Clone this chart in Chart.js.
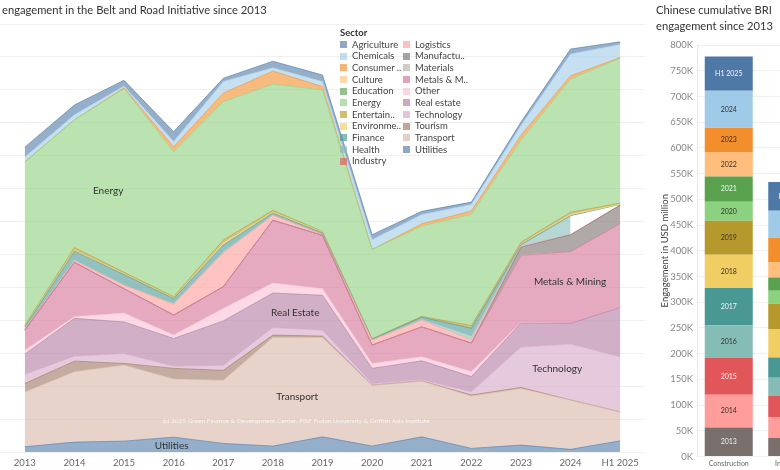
<!DOCTYPE html>
<html><head><meta charset="utf-8">
<script src="https://cdn.jsdelivr.net/npm/chart.js@4.4.1/dist/chart.umd.min.js"></script>
<style>
html,body{margin:0;padding:0;background:#fff;width:780px;height:470px;overflow:hidden;font-family:Lato,'Open Sans',sans-serif;position:relative;}
#left{position:absolute;left:0;top:0;}
#right{position:absolute;left:645px;top:0;}
.title{position:absolute;color:#333;font-size:11.2px;white-space:nowrap;line-height:16px;}
#legend{position:absolute;left:340px;top:27px;font-size:9.5px;color:#444;line-height:11.67px;}
#legend .head{font-weight:bold;color:#333;}
#legend .grid{display:grid;grid-auto-flow:column;grid-template-rows:repeat(11,11.67px);grid-template-columns:63px 70px;}
#legend .item{display:flex;align-items:center;white-space:nowrap;}
#legend .sw{width:7px;height:7px;margin-right:5px;flex:none;}
</style></head>
<body>
<canvas id="left" width="650" height="470"></canvas>
<canvas id="right" width="200" height="470"></canvas>
<div class="title" style="left:2px;top:2px;">engagement in the Belt and Road Initiative since 2013</div>
<div class="title" style="left:656px;top:2px;">Chinese cumulative BRI<br>engagement since 2013</div>
<div id="legend"><div class="head">Sector</div><div class="grid" id="lgrid"></div></div>
<script>
// ---------- Left chart data (USD billion) ----------
const years = ['2013','2014','2015','2016','2017','2018','2019','2020','2021','2022','2023','2024','H1 2025'];
const sectors = ['Agriculture','Chemicals','Consumer goods','Culture','Education','Energy','Entertainment','Environment','Finance','Health','Industry','Logistics','Manufacturing','Materials','Metals & Mining','Other','Real estate','Technology','Tourism','Transport','Utilities'];
const legendLabels = ['Agriculture','Chemicals','Consumer ..','Culture','Education','Energy','Entertain..','Environme..','Finance','Health','Industry','Logistics','Manufactu..','Materials','Metals & M..','Other','Real estate','Technology','Tourism','Transport','Utilities'];

const agriculture   = [3.0, 3.0, 1.7, 3.0, 1.0, 2.0, 2.0, 1.5, 1.0, 0.7, 1.0, 1.5, 0.8];
const chemicals     = [1.5, 1.5, 0.6, 1.6, 3.5, 1.0, 1.5, 3.0, 2.8, 2.0, 3.0, 6.6, 4.0];
const consumer      = [0, 0, 0.2, 1.5, 2.6, 4.0, 1.0, 0, 0.7, 1.0, 1.5, 1.0, 0.2];
const culture       = [0,0,0,0,0,0,0,0,0,0,0,0,0];
const education     = [0,0,0,0,0,0,0,0,0,0,0,0,0];
const energy        = [49.6, 38.8, 55.8, 44.0, 42.0, 38.3, 43.0, 27.1, 27.4, 33.8, 31.0, 40.5, 44.0];
const entertainment = [0.3, 0.8, 0.5, 0.4, 1.0, 0.5, 0.3, 0.1, 0.2, 0.8, 0.5, 0.6, 0.3];
const environment   = [0.2, 0.3, 0.2, 0.2, 0.5, 0.3, 0.2, 0, 0, 0, 0.2, 0.4, 0.3];
const finance       = [0.5, 2.5, 3.0, 1.4, 2.0, 0.5, 0.3, 0.2, 0.6, 2.3, 0.2, 0.2, 0];
const health        = [0.2, 0.4, 0.3, 0.3, 0.5, 0.2, 0.1, 0.1, 0.4, 1.2, 0.3, 5.6, 0];
const industry      = [0,0,0,0,0,0,0,0,0,0,0,0,0];
const logistics     = [0.3, 0.5, 1.0, 3.3, 10.2, 1.5, 0.3, 1.5, 2.0, 1.0, 0.3, 0, 0];
const manufacturing = [0,0,0,0,0,0,0,0,0,0, 2.3, 5.1, 5.6];
const materials     = [0,0,0,0,0,0,0,0,0,0, 0.2, 0, 0];
const metals        = [6.1, 16.5, 7.4, 6.1, 6.6, 19.1, 16.2, 5.6, 9.1, 8.7, 20.3, 21.8, 25.5];
const other         = [1.2, 0.5, 2.7, 1.0, 3.8, 3.0, 2.0, 1.5, 1.2, 1.5, 0.2, 0, 0];
const realEstate    = [6.1, 11.5, 9.6, 8.4, 13.5, 10.5, 10.6, 4.6, 5.7, 4.6, 7.3, 6.3, 15.0];
const technology    = [2.8, 1.5, 3.0, 0.7, 1.5, 2.3, 1.8, 0.5, 0.4, 1.0, 12.3, 17.0, 16.7];
const tourism       = [2.6, 3.2, 0.5, 3.2, 3.0, 0.7, 0.4, 0, 0, 0.3, 0.3, 0, 0];
const transport     = [16.6, 21.4, 23.1, 17.7, 19.2, 33.0, 30.2, 18.5, 17.0, 15.9, 17.2, 15.0, 8.8];
const utilities     = [1.6, 3.0, 3.3, 4.5, 2.6, 1.8, 4.6, 1.8, 4.6, 1.1, 2.1, 0.8, 3.4];

const sectorValues = [agriculture, chemicals, consumer, culture, education, energy, entertainment, environment, finance, health, industry, logistics, manufacturing, materials, metals, other, realEstate, technology, tourism, transport, utilities];
const sectorColors = ['#4E79A7','#A0CBE8','#F28E2B','#FFBE7D','#59A14F','#8CD17D','#B6992D','#F1CE63','#499894','#86BCB6','#E15759','#FF9D9A','#79706E','#BAB0AC','#D37295','#FABFD2','#B07AA1','#D4A6C8','#9D7660','#D7B5A6','#4E79A7'];
const yTicksLeft = {min:0, max:130, step:10};

// ---------- Right chart data (USD million) ----------
const barCategories = ['Construction','Investment'];
const barYears = ['2013','2014','2015','2016','2017','2018','2019','2020','2021','2022','2023','2024','H1 2025'];
const construction = [56400, 63500, 71400, 63400, 72700, 64700, 66100, 36900, 49200, 47500, 47200, 71900, 66700];
const investment   = [35800, 40800, 42000, 34400, 39500, 55200, 49200, 25300, 25900, 29200, 48000, 52500, 55800];
const yearColors = ['#79706E','#FF9D9A','#E15759','#86BCB6','#499894','#F1CE63','#B6992D','#8CD17D','#59A14F','#FFBE7D','#F28E2B','#A0CBE8','#4E79A7'];
const yearTextColors = ['#eeeeee','#333333','#f4f4f4','#333333','#f4f4f4','#333333','#333333','#333333','#f4f4f4','#333333','#333333','#333333','#f4f4f4'];
const yTicksRight = {min:0, max:800000, step:50000};

// area labels (category index, value)
const areaLabels = [
  {text:'Energy', at:1.68, value:79.4},
  {text:'Real Estate', at:5.45, value:42.3},
  {text:'Transport', at:5.49, value:16.7},
  {text:'Utilities', at:2.96, value:1.8},
  {text:'Metals & Mining', at:10.99, value:51.7},
  {text:'Technology', at:10.73, value:25.3}
];
const credit = {text:'(c) 2025 Green Finance & Development Center, FISF Fudan University & Griffith Asia Institute', at:5.47, value:9.5};

function rgba(hex, a){
  const n = parseInt(hex.slice(1),16);
  return `rgba(${(n>>16)&255},${(n>>8)&255},${n&255},${a})`;
}

Chart.defaults.font.family = "Lato, 'Open Sans', sans-serif";
Chart.defaults.animation = false;

// legend
const lg = document.getElementById('lgrid');
sectors.forEach((s,i)=>{
  const d = document.createElement('div'); d.className='item';
  d.innerHTML = `<span class="sw" style="background:${rgba(sectorColors[i],0.65)}"></span><span>${legendLabels[i]}</span>`;
  lg.appendChild(d);
});

// stacked area datasets: bottom = last sector
const healthIdx = sectors.indexOf('Health');
const areaDatasets = [];
for (let k = sectors.length-1; k >= 0; k--) {
  const allZero = sectorValues[k].every(v=>v===0);
  const ds = {
    label: sectors[k],
    data: sectorValues[k],
    backgroundColor: rgba(sectorColors[k],0.6),
    borderColor: allZero ? 'rgba(0,0,0,0)' : rgba(sectorColors[k],0.75),
    borderWidth: 0.8,
    pointRadius: 0,
    tension: 0,
    fill: areaDatasets.length === 0 ? 'origin' : '-1'
  };
  if (k === healthIdx) {
    ds.segment = {
      backgroundColor: c => c.p0DataIndex === years.length-2 ? '#ffffff' : undefined,
      borderColor: c => c.p0DataIndex === years.length-2 ? 'rgba(0,0,0,0)' : undefined
    };
  }
  areaDatasets.push(ds);
}

const labelPlugin = {
  id:'areaLabels',
  afterDatasetsDraw(chart){
    const {ctx, scales:{x,y}} = chart;
    ctx.save();
    ctx.textAlign='center'; ctx.textBaseline='middle';
    ctx.font = "10px Lato, 'Open Sans', sans-serif";
    ctx.fillStyle = '#333';
    areaLabels.forEach(l=>ctx.fillText(l.text, x.getPixelForValue(l.at), y.getPixelForValue(l.value)));
    ctx.font = "6.5px Lato, 'Open Sans', sans-serif";
    ctx.fillStyle = 'rgba(255,255,255,0.75)';
    ctx.fillText(credit.text, x.getPixelForValue(credit.at), y.getPixelForValue(credit.value));
    ctx.restore();
  }
};

new Chart(document.getElementById('left'), {
  type:'line',
  data:{labels:years, datasets:areaDatasets},
  options:{
    responsive:false,
    layout:{padding:{left:0,right:5,top:24,bottom:0}},
    plugins:{legend:{display:false}, tooltip:{enabled:false}},
    scales:{
      x:{offset:true, grid:{display:false, drawTicks:false}, border:{display:false},
         ticks:{color:'#666', font:{size:9.5}, padding:5, maxRotation:0, autoSkip:false},
         afterFit:s=>{s.height=18;}},
      y:{stacked:true, min:yTicksLeft.min, max:yTicksLeft.max,
         ticks:{display:false, stepSize:yTicksLeft.step},
         grid:{color:'#efefef', drawTicks:false}, border:{display:false},
         afterFit:s=>{s.width=0;}}
    }
  },
  plugins:[labelPlugin]
});

const barLabelPlugin = {
  id:'barLabels',
  afterDatasetsDraw(chart){
    const {ctx} = chart;
    ctx.save();
    ctx.textAlign='center'; ctx.textBaseline='middle';
    ctx.font = "7px Lato, 'Open Sans', sans-serif";
    chart.data.datasets.forEach((ds,i)=>{
      chart.getDatasetMeta(i).data.forEach(el=>{
        ctx.fillStyle = yearTextColors[i];
        ctx.fillText(ds.label, el.x, (el.y+el.base)/2);
      });
    });
    ctx.restore();
  }
};

new Chart(document.getElementById('right'), {
  type:'bar',
  data:{labels:barCategories, datasets: barYears.map((yr,i)=>({
    label: yr,
    data: [construction[i], investment[i]],
    backgroundColor: yearColors[i],
    borderWidth: 0,
    categoryPercentage: 1,
    barPercentage: 0.756
  }))},
  options:{
    responsive:false,
    layout:{padding:{left:10,right:21,top:45,bottom:0}},
    plugins:{legend:{display:false}, tooltip:{enabled:false}},
    scales:{
      x:{stacked:true, grid:{display:false, drawTicks:false}, border:{display:false},
         ticks:{color:'#666', font:{size:7}, padding:3, maxRotation:0},
         afterFit:s=>{s.height=13.5;}},
      y:{stacked:true, min:yTicksRight.min, max:yTicksRight.max,
         ticks:{stepSize:yTicksRight.step, color:'#888', font:{size:9.5}, padding:4,
                callback:v=>(v/1000)+'K'},
         grid:{color:'#f0f0f0', drawTicks:false},
         border:{display:true, color:'#e8e8e8'},
         title:{display:true, text:'Engagement in USD million', color:'#444', font:{size:9.5}, padding:{top:4,bottom:0}},
         afterFit:s=>{s.width=42;}}
    }
  },
  plugins:[barLabelPlugin]
});
</script>
</body></html>
